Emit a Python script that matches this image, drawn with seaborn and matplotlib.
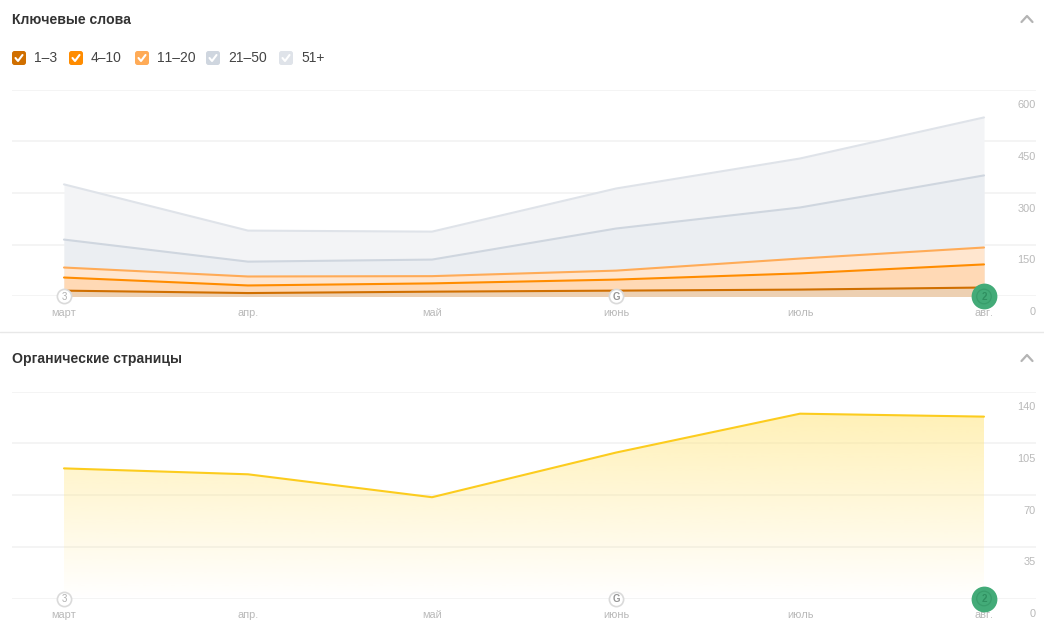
import matplotlib
matplotlib.use('Agg')
import matplotlib.pyplot as plt
from matplotlib.patches import FancyBboxPatch
import numpy as np
import pandas as pd
import seaborn as sns

sns.set_theme(style='white')
plt.rcParams['font.family'] = ['Liberation Sans', 'DejaVu Sans']
plt.rcParams['text.kerning_factor'] = 6

MONTHS = ['март', 'апр.', 'май', 'июнь', 'июль', 'авг.']
KW_TICKS = [0, 150, 300, 450, 600]
PAGE_TICKS = [0, 35, 70, 105, 140]

KW_1_3 = [17, 10, 14, 17, 20, 26]
KW_4_10 = [55, 32, 38, 49, 67, 93]
KW_11_20 = [84, 58, 59, 75, 110, 142]
KW_21_50 = [165, 101, 107, 197, 258, 351]
KW_51 = [325, 191, 188, 313, 400, 519]
PAGES = [88, 84, 68.5, 98.7, 125, 123]

BAND_LABELS = ['1–3', '4–10', '11–20', '21–50', '51+']
LINE_COLORS = ['#d06f00', '#ff8c00', '#ffab57', '#cfd6df', '#dfe3e9']
FILL_COLORS = ['#edd0b2', '#ffd9b5', '#ffe6cf', '#ebeef2', '#f3f4f6']

W, H = 1044, 625
TICK_GREY = '#b9b9b9'
GRID = '#f3f3f3'
X_LIM = (-52 / 184, 5 + 52 / 184)


def px_axes(fig, left, top, right, bottom):
    return fig.add_axes([left / W, 1 - bottom / H, (right - left) / W, (bottom - top) / H])


def style_axes(ax, y_ticks):
    ax.set_xlim(*X_LIM)
    ax.set_ylim(y_ticks[0], y_ticks[-1])
    sns.despine(ax=ax, left=True, bottom=True)
    ax.set_xticks(range(len(MONTHS)), MONTHS)
    ax.set_yticks(y_ticks, [''] * len(y_ticks))
    ax.tick_params(axis='both', length=0)
    ax.tick_params(axis='x', pad=8.2, labelsize=7.9, labelcolor=TICK_GREY)
    ax.grid(axis='y', color=GRID, linewidth=1.3)
    ax.set_axisbelow(True)
    ax.set_xlabel('')
    ax.set_ylabel('')
    for value in y_ticks:
        ax.annotate(str(value), xy=(1, value), xycoords=ax.get_yaxis_transform(),
                    xytext=(0, -11.2), textcoords='offset points',
                    ha='right', va='center', fontsize=7.9, color=TICK_GREY)


def draw_pins(ax, first):
    top = dict(clip_on=False, zorder=6)
    label = dict(ha='center', va='center_baseline', zorder=7)
    ax.scatter([0, 3], [0, 0], s=105, color='white', edgecolor='#dadada', linewidth=1.2, **top)
    ax.text(0, 0, first, fontsize=7, color='#b0b0b0', **label)
    ax.text(3, 0, 'G', fontsize=7, weight='bold', color='#969696', **label)
    ax.scatter([5], [0], s=345, color='#43ab78', linewidth=0, **top)
    ax.scatter([5], [0], s=110, color='none', edgecolor='#389d6b', linewidth=0.9, **top)
    ax.text(5, 0, '2', fontsize=7, weight='bold', color='#2f8f60', **label)


def draw_keywords(ax):
    x = np.arange(len(MONTHS))
    series = [KW_1_3, KW_4_10, KW_11_20, KW_21_50, KW_51]
    df = pd.DataFrame({'x': np.tile(x, 5), 'y': np.concatenate(series),
                       'band': np.repeat(BAND_LABELS, len(x))})
    for i in range(4, -1, -1):
        ax.fill_between(x, series[i], 0, color=FILL_COLORS[i], linewidth=0, zorder=1 + (4 - i) * 0.1)
    sns.lineplot(data=df, x='x', y='y', hue='band', hue_order=BAND_LABELS, palette=LINE_COLORS,
                 linewidth=1.5, legend=False, ax=ax, zorder=3)
    style_axes(ax, KW_TICKS)
    draw_pins(ax, '3')


def draw_pages(ax):
    x = np.arange(len(MONTHS))
    style_axes(ax, PAGE_TICKS)
    shade = np.linspace(0, 1, 256).reshape(-1, 1)
    rgba = np.ones((256, 1, 4))
    rgba[..., :3] = matplotlib.colors.to_rgb('#ffe680')
    # strongest near the line, fading to nothing at the baseline
    rgba[..., 3] = shade * 0.56
    poly = ax.fill_between(x, PAGES, 0, color='none', linewidth=0)
    img = ax.imshow(rgba, origin='lower', aspect='auto', zorder=1, interpolation='bilinear',
                    extent=(0, 5, 0, max(PAGES)))
    img.set_clip_path(poly.get_paths()[0], transform=ax.transData)
    ax.set_xlim(*X_LIM)
    ax.set_ylim(PAGE_TICKS[0], PAGE_TICKS[-1])
    sns.lineplot(x=x, y=PAGES, color='#fccc1e', linewidth=1.5, ax=ax, zorder=3)
    ax.set_xlabel('')
    ax.set_ylabel('')
    draw_pins(ax, '3')


def draw_chrome(fig):
    ov = fig.add_axes([0, 0, 1, 1], zorder=-1)
    ov.set_xlim(0, W)
    ov.set_ylim(H, 0)
    ov.axis('off')
    ov.plot([0, W], [332, 332], color='#e8e8e8', linewidth=1)
    ov.text(12, 19.5, 'Ключевые слова', fontsize=10.1, weight='bold', color='#333333', va='center')
    ov.text(12, 358.5, 'Органические страницы', fontsize=10.1, weight='bold', color='#333333', va='center')
    for cy in (18.5, 357.5):
        ov.plot([1021.5, 1027, 1032.5], [cy + 3.5, cy - 2.5, cy + 3.5], color='#b4b4b4', linewidth=1.6)
    box_x = [12, 69, 135, 206, 279]
    for bx, label, col in zip(box_x, BAND_LABELS, LINE_COLORS):
        ov.add_patch(FancyBboxPatch((bx + 2, 53), 10, 10, boxstyle='round,pad=2,rounding_size=2.5',
                                    facecolor=col, edgecolor='none'))
        ov.plot([bx + 3.5, bx + 6, bx + 10.5], [58, 61, 55], color='white', linewidth=1.5)
        ov.text(bx + 22, 58.5, label, fontsize=10, color='#444444', va='center')


fig = plt.figure(figsize=(W / 100, H / 100), dpi=100)
draw_chrome(fig)
draw_keywords(px_axes(fig, 12, 89.5, 1036, 296.5))
draw_pages(px_axes(fig, 12, 391.5, 1036, 598.5))
fig.savefig('out.png', dpi=100)
